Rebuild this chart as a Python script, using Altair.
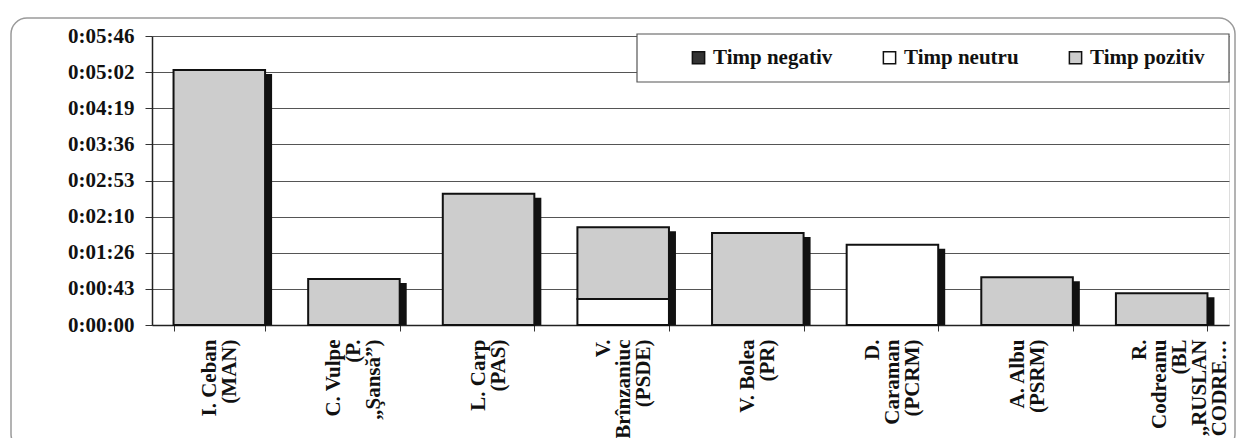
import altair as alt
import pandas as pd

candidates = [
    "I. Ceban|(MAN)",
    "C. Vulpe|(P.|„Şansă”)",
    "L. Carp|(PAS)",
    "V.|Brînzaniuc|(PSDE)",
    "V. Bolea|(PR)",
    "D.|Caraman|(PCRM)",
    "A. Albu|(PSRM)",
    "R.|Codreanu|(BL|„RUSLAN|CODRE…",
]
series = ["Timp negativ", "Timp neutru", "Timp pozitiv"]
# seconds
negativ = [0, 0, 0, 0, 0, 0, 0, 0]
neutru = [0, 0, 0, 31, 0, 96, 0, 0]
pozitiv = [305, 55, 157, 86, 110, 0, 57, 38]
y_ticks = [0, 43.2, 86.4, 129.6, 172.8, 216.0, 259.2, 302.4, 345.6]
colors = ["#333333", "#ffffff", "#cdcdcd"]

rows = []
for i, c in enumerate(candidates):
    for k, (s, vals) in enumerate(zip(series, [negativ, neutru, pozitiv])):
        if vals[i] > 0:
            rows.append({"cand": c, "series": s, "value": vals[i], "ord": k})
df = pd.DataFrame(rows)
tot = pd.DataFrame({"cand": candidates,
                    "total": [a + b + c for a, b, c in zip(negativ, neutru, pozitiv)]})

W, H = 1077, 289
FONT = "Liberation Serif"
FS = 21

nlines = "length(split(datum.label, '|'))"
label_offset = {
    "condition": [
        {"test": f"{nlines} == 2", "value": -10},
        {"test": f"{nlines} == 3", "value": -20},
        {"test": f"{nlines} >= 4", "value": -22},
    ],
    "value": 0,
}

xenc = alt.X("cand:N", sort=candidates,
             scale=alt.Scale(paddingInner=0.32, paddingOuter=0.16),
             axis=alt.Axis(title=None, labelAngle=270, labelAlign="right",
                           labelBaseline="middle", labelExpr="split(datum.label, '|')",
                           labelFont=FONT, labelFontWeight="bold", labelFontSize=FS,
                           labelLineHeight=20, labelColor="#111", labelPadding=8,
                           labelOffset=label_offset,
                           tickBand="extent", tickSize=6, tickColor="#333",
                           domainColor="#222", domainWidth=1.5, labelLimit=300))
yscale = alt.Scale(domain=[0, 345.6], nice=False)

shadow = alt.Chart(tot).mark_bar(color="#111", xOffset=7, yOffset=4, clip=True).encode(
    x=xenc,
    y=alt.Y("total:Q", scale=yscale),
)

bars = alt.Chart(df).mark_bar(stroke="#111", strokeWidth=2).encode(
    x=xenc,
    y=alt.Y("value:Q", stack="zero", scale=yscale,
            axis=alt.Axis(title=None, values=y_ticks, tickCount=9, labelOverlap=False,
                          labelExpr="timeFormat(datetime(2000,0,1,0,0,round(datum.value)), '%-H:%M:%S')",
                          labelFont=FONT, labelFontWeight="bold", labelFontSize=FS,
                          labelColor="#111", labelPadding=11, tickSize=7, tickColor="#333",
                          domainColor="#222", domainWidth=1.5,
                          grid=True, gridColor="#555", gridWidth=1)),
    color=alt.Color("series:N", scale=alt.Scale(domain=series, range=colors),
                    legend=alt.Legend(title=None, orient="none", direction="horizontal",
                                      legendX=536, legendY=11, symbolType="square",
                                      symbolSize=150, symbolStrokeColor="#111",
                                      symbolStrokeWidth=1.5, labelFont=FONT,
                                      labelFontWeight="bold", labelFontSize=FS,
                                      labelColor="#111", columnPadding=46, labelLimit=300)),
    order=alt.Order("ord:Q"),
)

one = pd.DataFrame({"a": [0]})
frame = alt.Chart(one).mark_rect(fill="transparent", stroke="#9a9a9a", strokeWidth=1.5,
                                 cornerRadius=16).encode(
    x=alt.value(-141), x2=alt.value(W + 6), y=alt.value(-18), y2=alt.value(H + 125))
legbox = alt.Chart(one).mark_rect(fill="white", stroke="#555", strokeWidth=1.2).encode(
    x=alt.value(485), x2=alt.value(W), y=alt.value(-2), y2=alt.value(46))

chart = alt.layer(frame, shadow, bars, legbox).properties(
    width=W, height=H,
    autosize=alt.AutoSizeParams(type="none"),
    padding={"left": 144, "top": 28, "right": 8, "bottom": 113},
).configure_view(fill="#d9d9d9", stroke="#777", strokeWidth=1).configure(
    background="white")

chart.save("out.html", embed_options={"renderer": "svg", "actions": False})
